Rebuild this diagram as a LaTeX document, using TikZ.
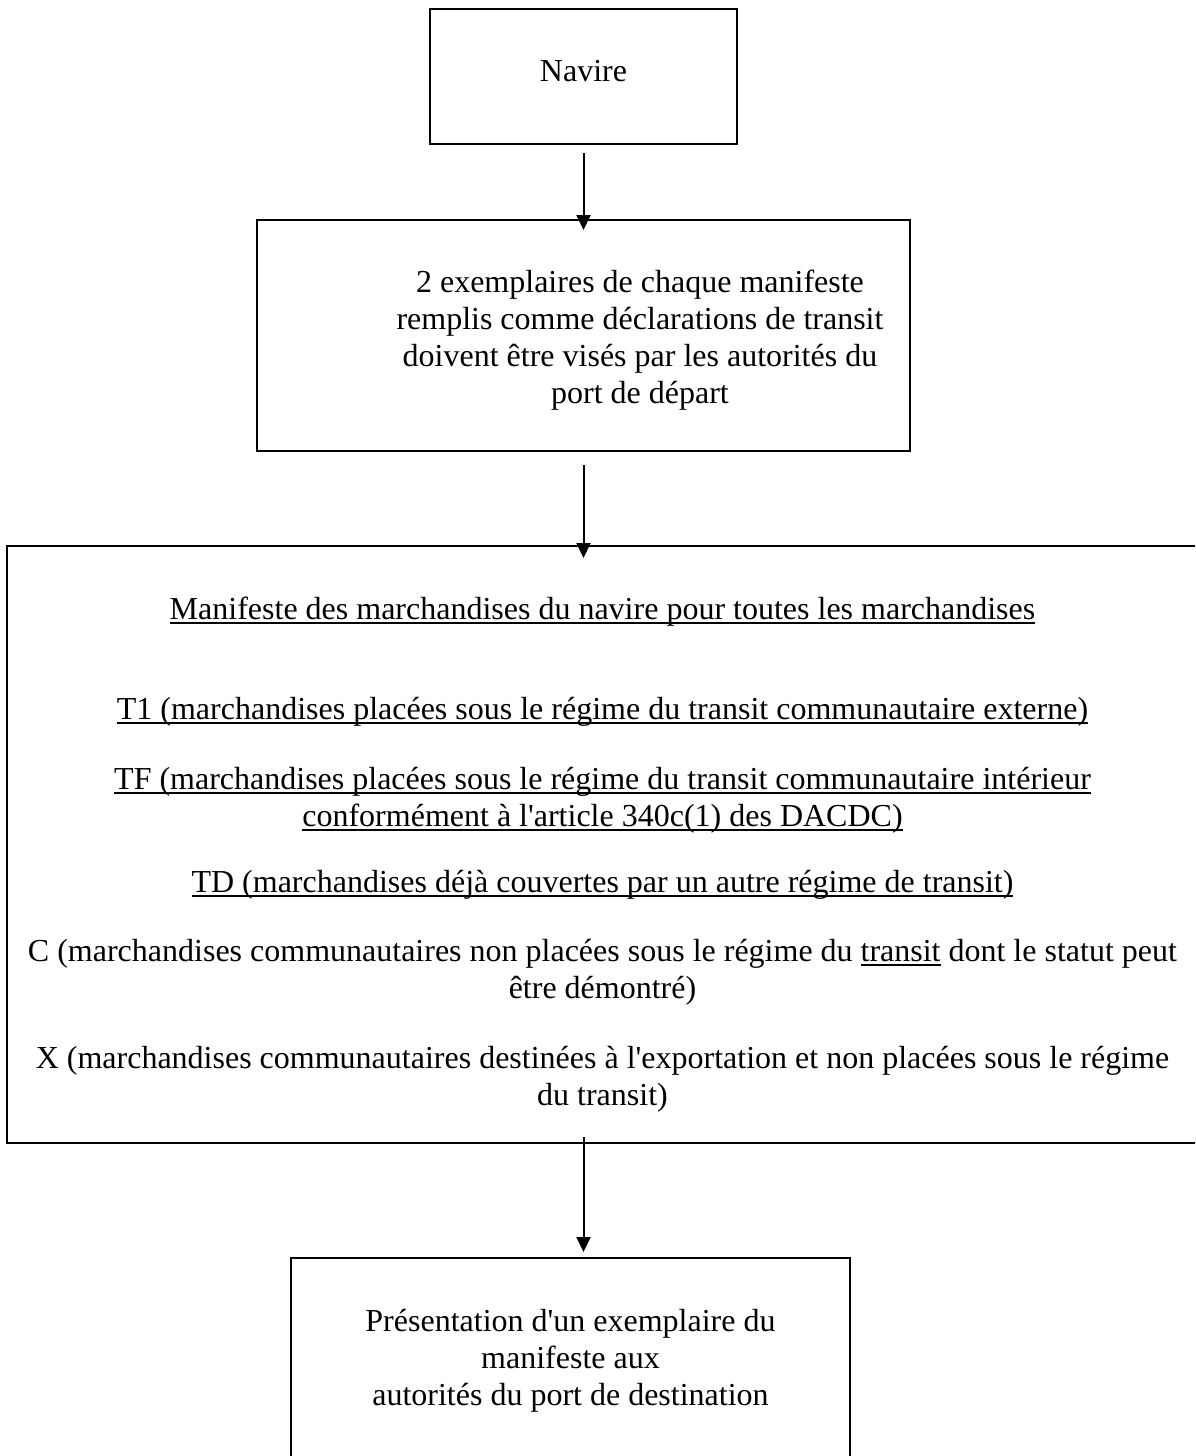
\documentclass[tikz,border=0pt]{standalone}
\usepackage{fontspec}
\setmainfont{Liberation Serif}
\usetikzlibrary{arrows.meta}
\newsavebox{\undlbox}
\newcommand{\undl}[1]{\sbox{\undlbox}{#1}\rlap{\rule[-4.5pt]{\wd\undlbox}{2pt}}\usebox{\undlbox}}
\newcommand{\apos}{\textquotesingle}

\begin{document}
\begin{tikzpicture}[
    x=1pt, y=-1pt,
    font=\fontsize{32}{37}\selectfont,
    box/.style={draw, line width=2pt, inner sep=0pt, outer sep=0pt, align=center},
    txt/.style={align=center, inner sep=0pt},
    arr/.style={-{Triangle[length=15pt, width=14pt]}, line width=2pt},
  ]
    \useasboundingbox (0,0) rectangle (1195,1456);
    \clip (0,0) rectangle (1195,1456);

    % Boxes
    \node[box, minimum width=307pt, minimum height=135pt, text depth=11pt] (navire) at (583.5,76.5) {Navire};
    \node[box, minimum width=653pt, minimum height=231pt] (visa)   at (583.5,335.5) {};
    \node[box, minimum width=1191pt, minimum height=597pt] (manif) at (602.5,844.5) {};
    \node[box, minimum width=559pt, minimum height=206pt] (dest)   at (570.5,1361)
        {Présentation d\apos un exemplaire du\\manifeste aux\\autorités du port de destination};

    % Texts inside the two large boxes
    \node[txt] (visatxt) at (640,340)
        {2 exemplaires de chaque manifeste\\remplis comme déclarations de transit\\doivent être visés par les autorités du\\port de départ};
    \node[txt] (maniftxt) at (602.5,855)
        {\undl{Manifeste des marchandises du navire pour toutes les marchandises}\\[63pt]
         \undl{T1 (marchandises placées sous le régime du transit communautaire externe)}\\[33pt]
         \undl{TF (marchandises placées sous le régime du transit communautaire intérieur}\\
         \undl{conformément à l\apos article 340c(1) des DACDC)}\\[29pt]
         \undl{TD (marchandises déjà couvertes par un autre régime de transit)}\\[32pt]
         C (marchandises communautaires non placées sous le régime du \undl{transit} dont le statut peut\\
         être démontré)\\[33pt]
         X (marchandises communautaires destinées à l\apos exportation et non placées sous le régime\\
         du transit)};

    % Arrows
    \draw[arr, shorten <=9pt, shorten >=-10pt] (navire.south) -- (navire.south |- visa.north);
    \draw[arr, shorten <=14pt, shorten >=-12pt] (visa.south) -- (visa.south |- manif.north);
    \draw[arr, shorten <=-6pt, shorten >=6pt] (navire.south |- manif.south) -- (navire.south |- dest.north);
\end{tikzpicture}
\end{document}
